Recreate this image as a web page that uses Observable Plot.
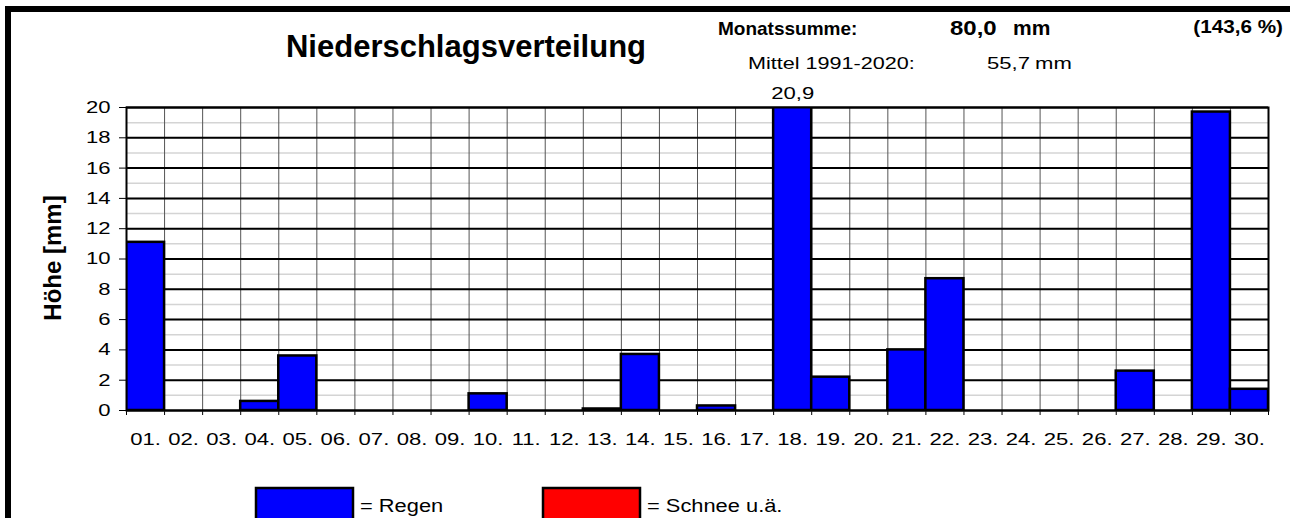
<!DOCTYPE html>
<html><head><meta charset="utf-8">
<script src="https://cdn.jsdelivr.net/npm/d3@7"></script>
<script src="https://cdn.jsdelivr.net/npm/@observablehq/plot@0.6"></script>
<style>html,body{margin:0;padding:0;background:#fff;} #chart{width:1290px;height:518px;overflow:hidden}</style>
</head><body><div id="chart"></div>
<script>
// ---- data ----
const dayLabels = ["01.","02.","03.","04.","05.","06.","07.","08.","09.","10.","11.","12.","13.","14.","15.","16.","17.","18.","19.","20.","21.","22.","23.","24.","25.","26.","27.","28.","29.","30."];
const rain = [11.1,0,0,0.6,3.6,0,0,0,0,1.1,0,0,0.1,3.7,0,0.3,0,20.9,2.2,0,4.0,8.7,0,0,0,0,2.6,0,19.7,1.4];
const snow = [0,0,0,0,0,0,0,0,0,0,0,0,0,0,0,0,0,0,0,0,0,0,0,0,0,0,0,0,0,0];
const yTicks = [0,2,4,6,8,10,12,14,16,18,20];
const meanTotal = 55.7;
const titleText = "Niederschlagsverteilung";
const yLabel = "Höhe [mm]";
const legendItems = [{name:"= Regen", color:"#0000ff"},{name:"= Schnee u.ä.", color:"#ff0000"}];

const fmt = v => v.toFixed(1).replace(".", ",");
const data = dayLabels.map((label, i) => ({day: i + 1, label, rain: rain[i], snow: snow[i]}));
const bounds = data.map(d => d.day - 0.5).concat([data.length + 0.5]);
const minors = d3.range(0, 21, 1);
const total = d3.sum(rain);

const FONT = "'Liberation Sans', Arial, sans-serif";
const STRETCH = 1.3;
const plot = Plot.plot({
  width: 1290, height: 518,
  marginLeft: 126, marginRight: 22, marginTop: 107, marginBottom: 108,
  style: {fontFamily: FONT, fontSize: "17px", background: "white", color: "black"},
  x: {domain: [0.5, 30.5], ticks: bounds, tickSize: 5, tickFormat: () => "", label: null},
  y: {domain: [0, 20], ticks: yTicks, tickSize: 7, tickFormat: () => "", label: null},
  marks: [
    Plot.ruleY(minors, {stroke: "#d4d4d4", strokeWidth: 1.5}),
    Plot.ruleX(bounds, {stroke: "#555", strokeWidth: 1}),
    Plot.ruleY(yTicks, {stroke: "black", strokeWidth: 2}),
    Plot.rectY(data.filter(d => d.rain > 0), {x1: d => d.day - 0.5, x2: d => d.day + 0.5, y1: 0, y2: "rain", fill: "#0000ff", stroke: "black", strokeWidth: 2.5, clip: true}),
    Plot.rectY(data.filter(d => d.snow > 0), {x1: d => d.day - 0.5, x2: d => d.day + 0.5, y1: "rain", y2: d => d.rain + d.snow, fill: "#ff0000", stroke: "black", strokeWidth: 2.5, clip: true}),
    Plot.text(data.filter(d => d.rain + d.snow > 20), {x: "day", y: 20, text: d => fmt(d.rain + d.snow), dy: -14, fontSize: 17}),
    Plot.text(data, {x: "day", y: 0, text: "label", dy: 29, fontSize: 17}),
    Plot.text(yTicks, {x: 0.5, y: d => d, text: d => String(d), textAnchor: "end", dx: -16, fontSize: 17}),
    Plot.frame({stroke: "black", strokeWidth: 2})
  ]
});
document.getElementById("chart").appendChild(plot);

const svg = d3.select(plot);
// horizontally widen the regular text labels (anchored scaling)
svg.selectAll("text").each(function() {
  const t = this.getAttribute("transform");
  if (this.textContent && t && /translate/.test(t)) this.setAttribute("transform", t + ` scale(${STRETCH},1)`);
});

// outer frame lines
svg.append("rect").attr("x", 5).attr("y", 6).attr("width", 6).attr("height", 520).attr("fill", "black");
svg.append("rect").attr("x", 5).attr("y", 6).attr("width", 1290).attr("height", 6).attr("fill", "black");

function txt(x, y, s, size, weight, anchor, sx) {
  return svg.append("text").attr("transform", `translate(${x},${y}) scale(${sx || 1},1)`).text(s)
    .attr("font-family", FONT).attr("font-size", size).attr("font-weight", weight || "normal")
    .attr("text-anchor", anchor || "start").attr("fill", "black");
}
txt(466, 57, titleText, 31, "bold", "middle");
txt(718, 35, "Monatssumme:", 19, "bold");
txt(950, 35, fmt(total), 20, "bold", "start", 1.2);
txt(1013, 35, "mm", 20, "bold", "start", 1.05);
txt(1283, 33, "(" + fmt(total / meanTotal * 100) + " %)", 18, "bold", "end", 1.15);
txt(748, 69, "Mittel 1991-2020:", 17, "normal", "start", 1.27);
txt(987, 69, fmt(meanTotal), 17, "normal", "start", 1.3);
txt(1035, 69, "mm", 17, "normal", "start", 1.3);
svg.append("text").attr("transform", "translate(61,258) rotate(-90)").text(yLabel)
  .attr("font-family", FONT).attr("font-size", 24).attr("font-weight", "bold").attr("text-anchor", "middle");

// legend
const lx = [256, 543];
legendItems.forEach((it, i) => {
  svg.append("rect").attr("x", lx[i]).attr("y", 488).attr("width", 97).attr("height", 40)
    .attr("fill", it.color).attr("stroke", "black").attr("stroke-width", 2.5);
  txt(lx[i] + 104, 512, it.name, 19, "normal", "start", 1.15);
});
</script>
</body></html>
